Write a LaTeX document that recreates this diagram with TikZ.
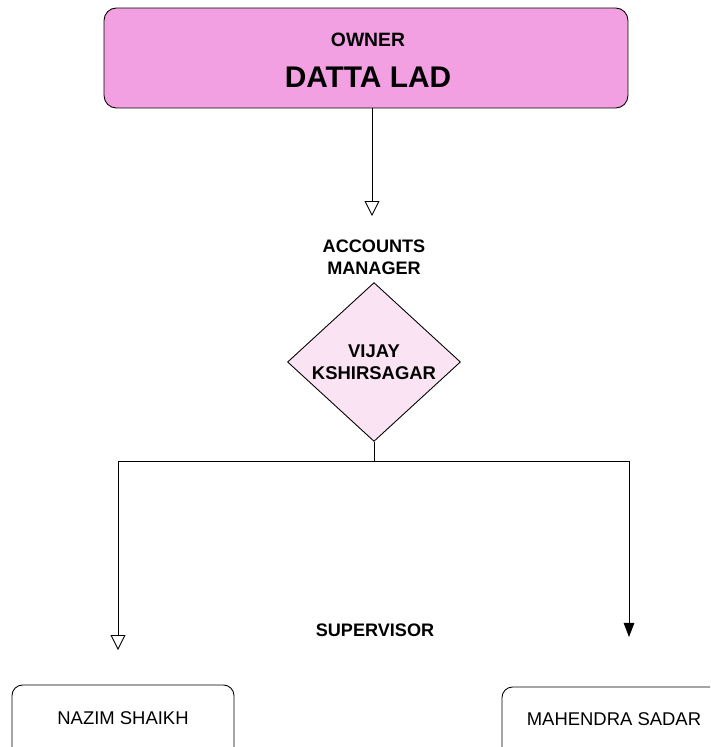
\documentclass[tikz,border=0pt]{standalone}
\usepackage{fontspec}
\setmainfont{Liberation Sans}
\usetikzlibrary{positioning, shapes.geometric, arrows.meta}
\definecolor{ownerpink}{RGB}{242,160,226}
\definecolor{managerpink}{RGB}{250,228,244}
\tikzset{
    ownerbox/.style={
        draw, fill = ownerpink, rounded corners = 7pt,
        minimum width = 10.48cm, minimum height = 2cm
    },
    personbox/.style={
        draw, rounded corners = 6pt,
        minimum width = 4.44cm, minimum height = 1.8cm
    },
    managerdiamond/.style={
        diamond, draw, fill = managerpink, inner sep = 0pt,
        minimum width = 3.46cm, minimum height = 3.14cm,
        align = center, font = \fontsize{10.5}{12.5}\selectfont\bfseries
    },
    role/.style = {align = center, font = \fontsize{10.3}{12.5}\selectfont\bfseries},
    personname/.style = {font = \fontsize{10.5}{12}\selectfont},
    line/.style = {-{Triangle[open, length = 8.5pt, width = 8.5pt]}},
    fullline/.style = {-{Triangle[length = 8pt, width = 6pt]}}
}

\begin{document}
\begin{tikzpicture}[x = 0.02cm, y = -0.02cm, line width = 0.5pt]

    % Frame
    \useasboundingbox (0,0) rectangle (710,747);
    \clip (0,0) rectangle (710,747);

    % Owner
    \node[ownerbox] (owner) at (366,58) {};
    \node[font = \fontsize{11}{13}\selectfont\bfseries] (ownertitle) at (368,40) {OWNER};
    \node[font = \fontsize{17}{20}\selectfont\bfseries] (ownername) at (368,77) {DATTA LAD};

    % Accounts manager
    \node[role] (acclabel) at (374,257) {ACCOUNTS\\MANAGER};
    \node[managerdiamond] (acc) at (374,362) {VIJAY\\KSHIRSAGAR};
    \coordinate (acctip) at (372,216);
    \draw[line] (owner.south -| acctip) -- (acctip);

    % Supervisors
    \node[role] (sup) at (375,630) {SUPERVISOR};
    \node[personbox] (nazim) at (123,730) {};
    \node[personname] (nazimtext) at (123,718) {NAZIM SHAIKH};
    \node[personbox, minimum width = 4.56cm] (mahendra) at (616,732) {};
    \node[personname] (mahendratext) at (614,719) {MAHENDRA SADAR};

    % Connectors
    \coordinate (branch) at (374,461);
    \coordinate (nazimtip) at (118,650);
    \coordinate (mahendratip) at (629,637);
    \draw[line] (acc.south) -- (branch) -| (nazimtip);
    \draw[fullline] (branch) -| (mahendratip);

\end{tikzpicture}
\end{document}
